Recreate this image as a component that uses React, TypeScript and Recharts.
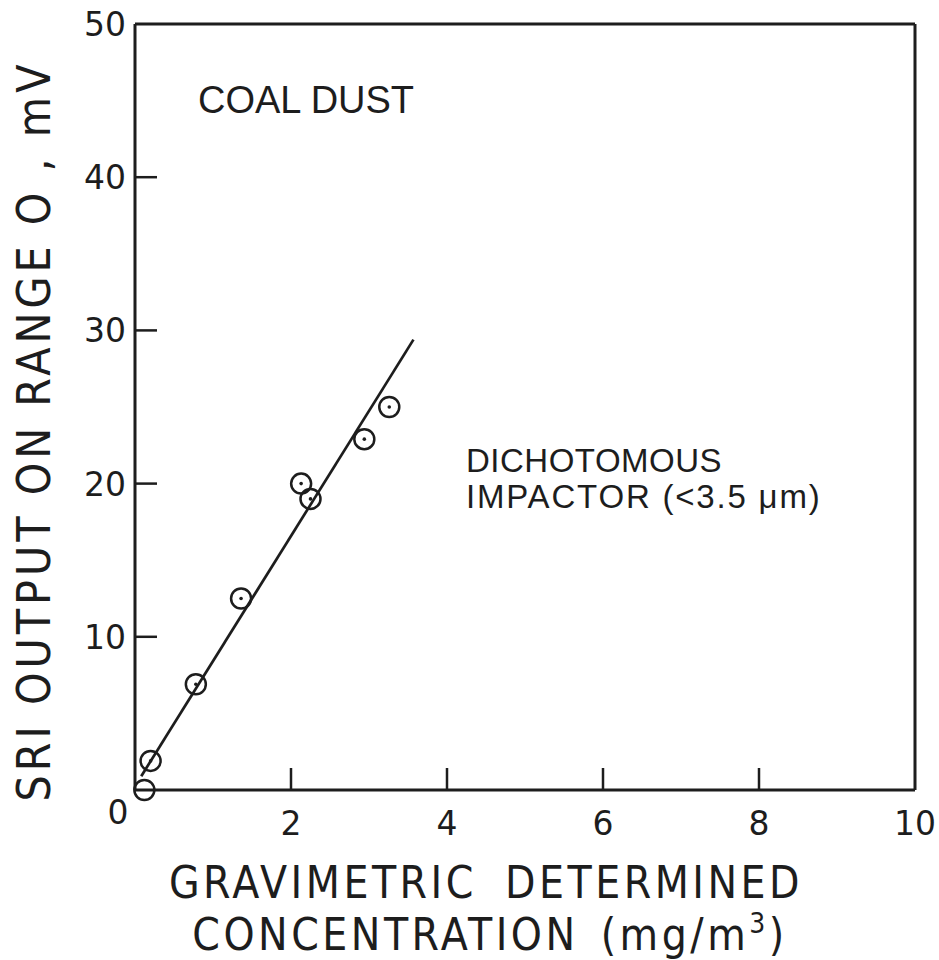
import React from 'react';
import { ScatterChart, Scatter, XAxis, YAxis } from 'recharts';

// SRI output vs gravimetric concentration, coal dust
const concentration = [0.2, 0.78, 1.36, 2.13, 2.25, 2.94, 3.26];
const sriOutput = [1.9, 6.9, 12.5, 20, 19, 22.9, 25];
const zeroConc = [0.12];
const zeroOutput = [0];
const fitConc = [0.08, 3.57];
const fitOutput = [0.9, 29.4];
const xTicks = [0, 2, 4, 6, 8, 10];
const yTicks = [0, 10, 20, 30, 40, 50];

const points = concentration.map((x, i) => ({ x, y: sriOutput[i] }));
const zeroPoints = zeroConc.map((x, i) => ({ x, y: zeroOutput[i] }));
const fitLine = fitConc.map((x, i) => ({ x, y: fitOutput[i] }));

const INK = '#1d1d1d';
const FONT = '"DejaVu Sans", sans-serif';
const NARROW = '"Liberation Sans Narrow", "DejaVu Sans Condensed", sans-serif';
const SANS = '"Liberation Sans", Arial, sans-serif';
const TICK_LEN = 22;

const BottomTick = ({ x, y, payload }: any) => {
  const v = payload.value;
  return (
    <g>
      {v !== 0 && v !== 10 && <line x1={x} x2={x} y1={y} y2={y - TICK_LEN} stroke={INK} strokeWidth={2.5} />}
      {v !== 0 && (
        <text x={x} y={y + 45} textAnchor="middle" fontSize={33} fill={INK} fontFamily={FONT}>
          {v}
        </text>
      )}
    </g>
  );
};

const TopTick = ({ x, y, payload }: any) => {
  const v = payload.value;
  if (v === 0 || v === 10) return <g />;
  return <line x1={x} x2={x} y1={y} y2={y + TICK_LEN} stroke={INK} strokeWidth={2.5} />;
};

const LeftTick = ({ x, y, payload }: any) => {
  const v = payload.value;
  if (v === 0) {
    return (
      <text x={x - 17} y={y + 34} textAnchor="middle" fontSize={33} fill={INK} fontFamily={FONT}>
        0
      </text>
    );
  }
  return (
    <g>
      {v !== 50 && <line x1={x} x2={x + TICK_LEN} y1={y} y2={y} stroke={INK} strokeWidth={2.5} />}
      <text x={x - 9} y={y + 12} textAnchor="end" fontSize={33} fill={INK} fontFamily={FONT}>
        {v}
      </text>
    </g>
  );
};

const RightTick = ({ x, y, payload }: any) => {
  const v = payload.value;
  if (v === 0 || v === 50) return <g />;
  return <line x1={x} x2={x - TICK_LEN} y1={y} y2={y} stroke={INK} strokeWidth={2.5} />;
};

const DottedCircle = ({ cx, cy }: any) => (
  <g>
    <circle cx={cx} cy={cy} r={10} fill="none" stroke={INK} strokeWidth={2.5} />
    <circle cx={cx} cy={cy} r={1.8} fill={INK} />
  </g>
);

const OpenCircle = ({ cx, cy }: any) => (
  <circle cx={cx} cy={cy} r={10} fill="none" stroke={INK} strokeWidth={2.5} />
);

const NoMark = () => <g />;

const App = () => {
  return (
    <div style={{ position: 'relative', width: 939, height: 960, background: '#fff' }}>
      <style>{'body{margin:0}'}</style>
      <ScatterChart width={939} height={960} margin={{ top: 23, right: 23, bottom: 110, left: 35 }}>
        <XAxis
          xAxisId={0}
          dataKey="x"
          type="number"
          domain={[0, 10]}
          ticks={xTicks}
          height={60}
          tickSize={0}
          tickMargin={0}
          tick={<BottomTick />}
          axisLine={{ stroke: INK, strokeWidth: 3 }}
          tickLine={false}
        />
        <XAxis
          xAxisId="top"
          orientation="top"
          type="number"
          domain={[0, 10]}
          ticks={xTicks}
          height={1}
          tickSize={0}
          tickMargin={0}
          tick={<TopTick />}
          axisLine={{ stroke: INK, strokeWidth: 3 }}
          tickLine={false}
        />
        <YAxis
          yAxisId={0}
          dataKey="y"
          type="number"
          domain={[0, 50]}
          ticks={yTicks}
          width={100}
          tickSize={0}
          tickMargin={0}
          tick={<LeftTick />}
          axisLine={{ stroke: INK, strokeWidth: 3 }}
          tickLine={false}
        />
        <YAxis
          yAxisId="right"
          orientation="right"
          type="number"
          domain={[0, 50]}
          ticks={yTicks}
          width={1}
          tickSize={0}
          tickMargin={0}
          tick={<RightTick />}
          axisLine={{ stroke: INK, strokeWidth: 3 }}
          tickLine={false}
        />
        <Scatter
          data={fitLine}
          line={{ stroke: INK, strokeWidth: 2.7 }}
          shape={NoMark}
          isAnimationActive={false}
        />
        <Scatter data={points} shape={DottedCircle} isAnimationActive={false} />
        <Scatter data={zeroPoints} shape={OpenCircle} isAnimationActive={false} />
      </ScatterChart>
      <svg
        width={939}
        height={960}
        style={{ position: 'absolute', left: 0, top: 0, pointerEvents: 'none' }}
        fill={INK}
      >
        <text x={198} y={113} fontSize={38} fontFamily={SANS}>COAL DUST</text>
        <text x={466} y={472} fontSize={33} fontFamily={SANS} letterSpacing={0.5}>DICHOTOMOUS</text>
        <text x={466} y={508} fontSize={33} fontFamily={SANS} letterSpacing={1.8}>
          IMPACTOR (&lt;3.5 μm)
        </text>
        <text x={486} y={898} fontSize={44} fontFamily={NARROW} textAnchor="middle" letterSpacing={3.5} wordSpacing={12}>
          GRAVIMETRIC DETERMINED
        </text>
        <text x={490} y={950} fontSize={44} fontFamily={NARROW} textAnchor="middle" letterSpacing={3.5} wordSpacing={6}>
          CONCENTRATION (mg/m
          <tspan fontSize={28} dy={-17}>3</tspan>
          <tspan dy={17}>)</tspan>
        </text>
        <text
          x={0}
          y={0}
          fontSize={46}
          fontFamily={NARROW}
          textAnchor="middle"
          letterSpacing={4}
          transform="translate(50 431) rotate(-90)"
        >
          SRI OUTPUT ON RANGE O , mV
        </text>
      </svg>
    </div>
  );
};

export default App;
